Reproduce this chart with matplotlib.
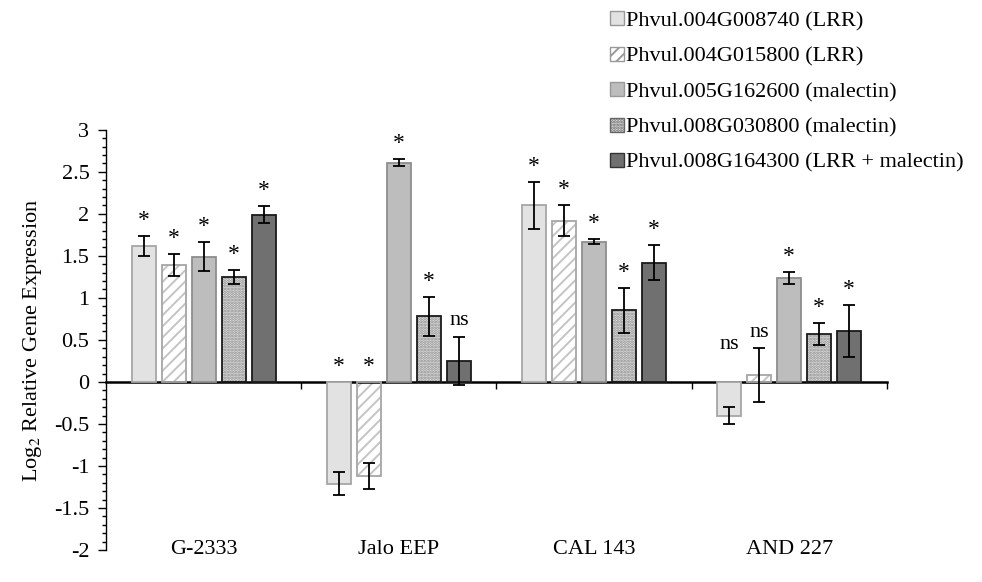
import numpy as np
import matplotlib
matplotlib.use("Agg")
import matplotlib.pyplot as plt
from matplotlib.patches import Patch
from matplotlib.ticker import MultipleLocator

plt.rcParams["font.family"] = ["Liberation Serif", "DejaVu Serif"]
plt.rcParams["mathtext.fontset"] = "stix"
plt.rcParams["hatch.linewidth"] = 1.4

cultivars = ["G-2333", "Jalo EEP", "CAL 143", "AND 227"]
genes = [
    "Phvul.004G008740 (LRR)",
    "Phvul.004G015800 (LRR)",
    "Phvul.005G162600 (malectin)",
    "Phvul.008G030800 (malectin)",
    "Phvul.008G164300 (LRR + malectin)",
]

# rows = genes, columns = cultivars
values = np.array([
    [1.62, -1.21, 2.10, -0.40],
    [1.39, -1.12, 1.92, 0.08],
    [1.49, 2.61, 1.67, 1.24],
    [1.25, 0.78, 0.85, 0.57],
    [1.99, 0.25, 1.42, 0.61],
])
errors = np.array([
    [0.12, 0.14, 0.28, 0.10],
    [0.13, 0.16, 0.18, 0.32],
    [0.17, 0.045, 0.03, 0.07],
    [0.085, 0.23, 0.27, 0.135],
    [0.10, 0.29, 0.21, 0.31],
])
signif = [
    ["*", "*", "*", "ns"],
    ["*", "*", "*", "ns"],
    ["*", "*", "*", "*"],
    ["*", "*", "*", "*"],
    ["*", "ns", "*", "*"],
]

faces = ["#e2e2e2", "white", "#bdbdbd", "#e4e4e4", "#707070"]
hatches = [None, "///", None, "......", None]
hatch_cols = [None, "#c4c4c4", None, "#8a8a8a", None]
edges = ["#a6a6a6", "#a6a6a6", "#8e8e8e", "#1a1a1a", "#1a1a1a"]
legend_edges = ["#999999", "#999999", "#999999", "#666666", "#333333"]

fig = plt.figure(figsize=(9.82, 5.82), dpi=100)
ax = fig.add_axes([0.108, 0.055, 0.795, 0.722])

x = np.arange(len(cultivars))
step = 0.154
width = 0.123
fs = 16

for i in range(len(genes)):
    xi = x + (i - 2) * step
    if hatches[i]:
        ax.bar(xi, values[i], width, color=faces[i], edgecolor=hatch_cols[i],
               hatch=hatches[i], linewidth=0, zorder=2)
        ax.bar(xi, values[i], width, fill=False, edgecolor=edges[i],
               linewidth=1.3, zorder=3)
    else:
        ax.bar(xi, values[i], width, color=faces[i], edgecolor=edges[i],
               linewidth=1.3, zorder=3)
    ax.errorbar(xi, values[i], yerr=errors[i], fmt="none", ecolor="black",
                elinewidth=1.3, capsize=4, capthick=1.3, zorder=4)
    for j in range(len(cultivars)):
        top = max(values[i, j] + errors[i, j], 0)
        if signif[i][j] == "*":
            ax.text(xi[j], top + 0.06, "*", ha="center", va="bottom",
                    fontsize=fs + 1, zorder=5)
        else:
            ty = top + 0.08
            if values[i, j] < 0:
                ty = 0.33
            ax.text(xi[j], ty, "ns", ha="center", va="bottom",
                    fontsize=fs, zorder=5)

ax.set_xlim(-0.5, len(cultivars) - 0.5)
ax.set_ylim(-2, 3)
ax.yaxis.set_minor_locator(MultipleLocator(0.1))
yt = np.arange(-2, 3.01, 0.5)
ax.set_yticks(yt)
ax.set_yticklabels([f"{v:g}" for v in yt], fontsize=fs)
ax.tick_params(axis="y", which="major", length=6, width=1.0, direction="out", pad=6)
ax.tick_params(axis="y", which="minor", length=3, width=1.0, direction="out")

ax.spines["top"].set_visible(False)
ax.spines["right"].set_visible(False)
ax.spines["bottom"].set_position(("data", 0))
ax.spines["bottom"].set_linewidth(1.8)
ax.spines["left"].set_linewidth(1.0)
ax.set_xticks(x)
ax.set_xticklabels([])
ax.tick_params(axis="x", which="major", length=0)
ax.set_xticks(np.arange(0.5, len(cultivars), 1.0), minor=True)
ax.tick_params(axis="x", which="minor", length=5, width=1.0, direction="out")

for j, name in enumerate(cultivars):
    ax.text(x[j], 0.0, name, transform=ax.get_xaxis_transform(),
            ha="center", va="center", fontsize=fs)

ax.set_ylabel("Log$_\\mathrm{2}$ Relative Gene Expression", fontsize=fs, labelpad=7)

handles = []
for i in range(len(genes)):
    handles.append(Patch(facecolor=faces[i], edgecolor=legend_edges[i],
                         hatch=hatches[i], linewidth=1.0))
fig.legend(handles, genes, loc="upper left", bbox_to_anchor=(0.601, 1.015),
           frameon=False, fontsize=fs, handlelength=0.6, handleheight=0.6,
           handletextpad=0.1, labelspacing=0.7)

fig.savefig("out.png", dpi=100)
